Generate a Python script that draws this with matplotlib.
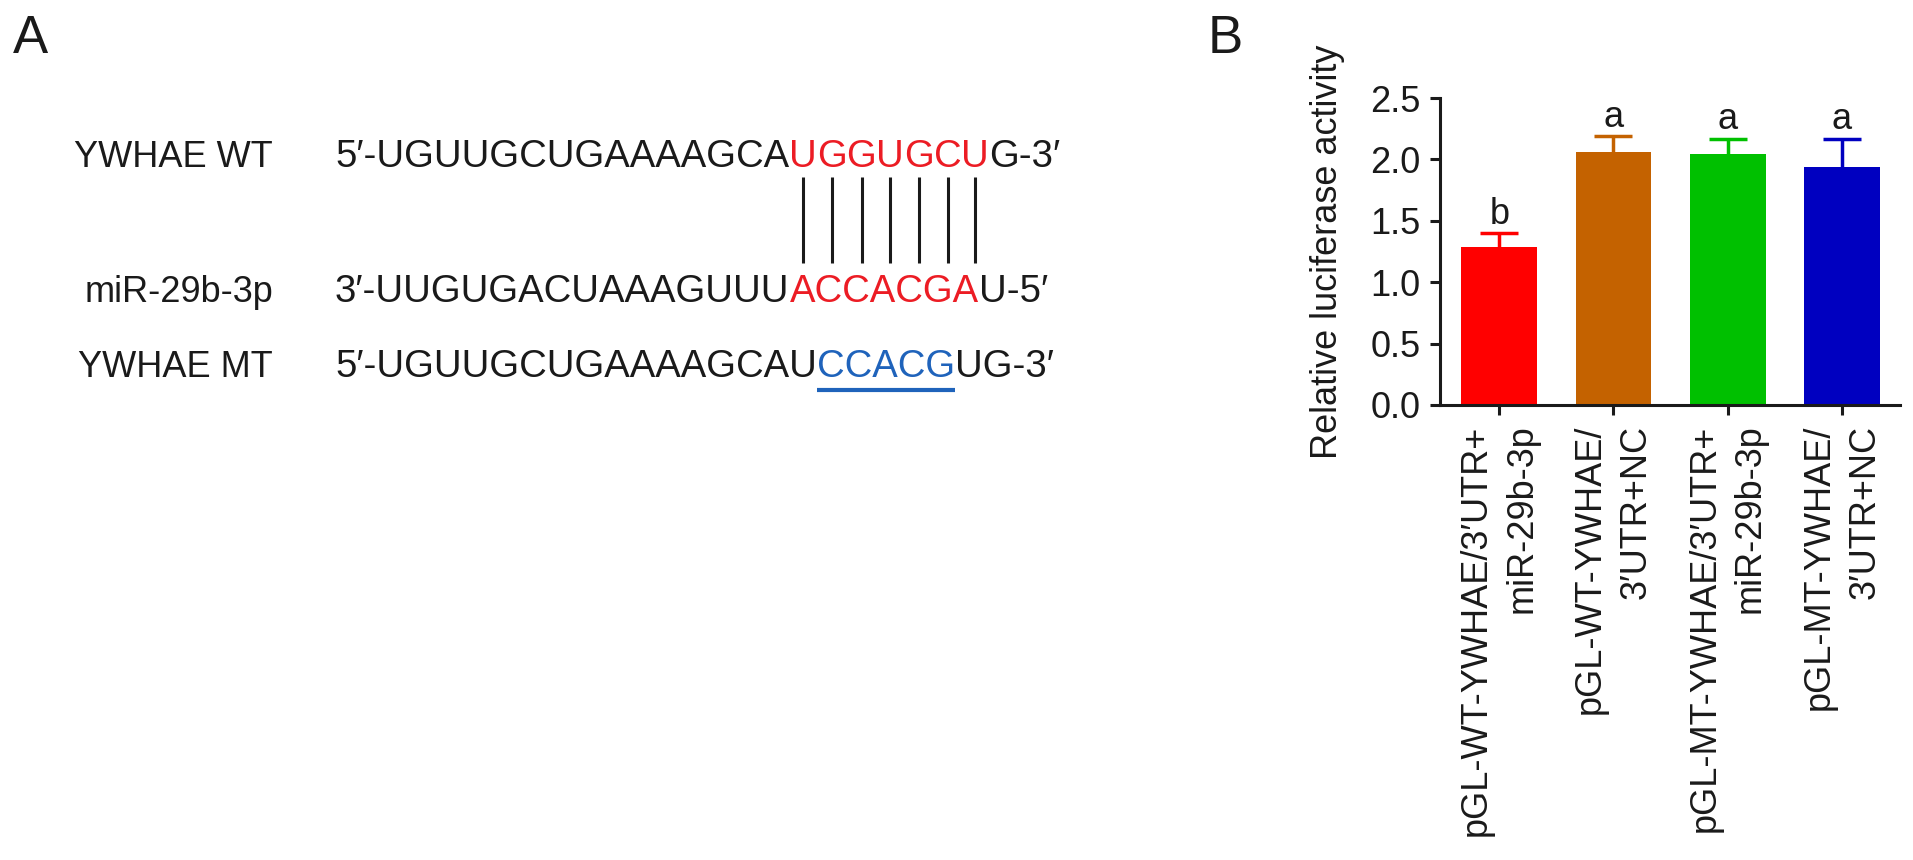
import numpy as np
import matplotlib
matplotlib.use("Agg")
import matplotlib.pyplot as plt

plt.rcParams['font.family'] = ['Liberation Sans', 'DejaVu Sans']

### DATA

# Panel A - sequence alignment
row_names = ["YWHAE WT", "miR-29b-3p", "YWHAE MT"]
wt_parts  = ["5′-UGUUGCUGAAAAGCA", "UGGUGCU", "G-3′"]
mir_parts = ["3′-UUGUGACUAAAGUUU", "ACCACGA", "U-5′"]
mt_parts  = ["5′-UGUUGCUGAAAAGCAU", "CCACG", "UG-3′"]

# Panel B - luciferase assay
groups = ["pGL-WT-YWHAE/3′UTR+\nmiR-29b-3p", "pGL-WT-YWHAE/\n3′UTR+NC",
          "pGL-MT-YWHAE/3′UTR+\nmiR-29b-3p", "pGL-MT-YWHAE/\n3′UTR+NC"]
activity = [1.29, 2.06, 2.04, 1.94]
sem      = [0.11, 0.13, 0.13, 0.23]
letters  = ["b", "a", "a", "a"]
yticks   = [0.0, 0.5, 1.0, 1.5, 2.0, 2.5]

# Colours
black = "#1a1a1a"
red   = "#ec1c24"
blue  = "#1f63bb"
bar_colors = ["#ff0000", "#c46200", "#00c000", "#0000c0"]

W, H = 1913, 860
fig = plt.figure(figsize=(W / 100, H / 100), dpi=100)

# full-figure axes in pixel units for panel A
axA = fig.add_axes([0, 0, 1, 1])
axA.set_xlim(0, W)
axA.set_ylim(H, 0)
axA.axis('off')

label_x, seq_x = 273, 335
row_y = [167, 302, 377]     # baselines
seq_size = 27.5


def draw_seq(parts, colors, y):
    # chain the pieces so each starts where the previous one ends
    prev = axA.text(seq_x, y, parts[0], color=colors[0], fontsize=seq_size,
                    ha='left', va='baseline')
    out = [prev]
    for s, c in zip(parts[1:], colors[1:]):
        prev = axA.annotate(s, xy=(1, 0), xycoords=prev, ha='left', va='bottom',
                            color=c, fontsize=seq_size)
        out.append(prev)
    return out


axA.text(13, 53, "A", fontsize=38, color=black, va='baseline')
axA.text(1208, 53, "B", fontsize=38, color=black, va='baseline')

for name, y in zip(row_names, row_y):
    axA.text(label_x, y, name, fontsize=26, color=black, ha='right', va='baseline')

seed = list(wt_parts[1])
wt_txt = draw_seq([wt_parts[0]] + seed + [wt_parts[2]],
                  [black] + [red] * len(seed) + [black], row_y[0])
draw_seq(mir_parts, [black, red, black], row_y[1])
mt_txt = draw_seq(mt_parts, [black, blue, black], row_y[2])

fig.canvas.draw()
renderer = fig.canvas.get_renderer()
inv = axA.transData.inverted()

# base-pairing lines under each seed letter
centers = []
for t in wt_txt[1:1 + len(seed)]:
    bb = t.get_window_extent(renderer)
    centers.append(inv.transform([(bb.x0 + bb.x1) / 2, bb.y0])[0])
axA.vlines(centers, row_y[0] + 10, row_y[1] - 39, color=black, lw=2.2)

# underline of the mutated site
bb = mt_txt[1].get_window_extent(renderer)
(ux0, _), (ux1, _) = inv.transform([[bb.x0, bb.y0], [bb.x1, bb.y0]])
axA.plot([ux0, ux1], [row_y[2] + 13] * 2, color=blue, lw=3, solid_capstyle='butt')

### Panel B
axB = fig.add_axes([1440 / W, 455 / H, 460 / W, 307 / H])
x = np.arange(len(groups))
axB.bar(x, activity, width=0.665, color=bar_colors, zorder=2)
for xi, v, e, c, lt in zip(x, activity, sem, bar_colors, letters):
    # upper error bar only: stem + cap
    axB.errorbar(xi, v, yerr=[[0], [e]], fmt='none', ecolor=c, elinewidth=2.5,
                 capsize=0, zorder=1)
    axB.plot(xi, v + e, marker='_', markersize=28, mew=2.5, color=c, zorder=1)
    axB.annotate(lt, xy=(xi, v + e), xytext=(0, 6.5), textcoords='offset points',
                 ha='center', va='baseline', fontsize=26, color=black)

axB.set_xlim(-0.52, 3.51)
axB.set_ylim(0, 2.5)
axB.set_yticks(yticks)
axB.set_yticklabels([f"{t:.1f}" for t in yticks])
axB.set_xticks(x)
axB.set_xticklabels(groups, rotation=90, multialignment='right', linespacing=1.4)
axB.set_ylabel("Relative luciferase activity", fontsize=26, color=black, labelpad=18)

for side in ['top', 'right']:
    axB.spines[side].set_visible(False)
for side in ['left', 'bottom']:
    axB.spines[side].set_linewidth(2.2)
    axB.spines[side].set_color(black)
    axB.spines[side].set_zorder(4)
axB.tick_params(axis='both', width=2.2, length=7, labelsize=26, colors=black, pad=7)
axB.patch.set_visible(False)

fig.savefig("out.png", dpi=100)
